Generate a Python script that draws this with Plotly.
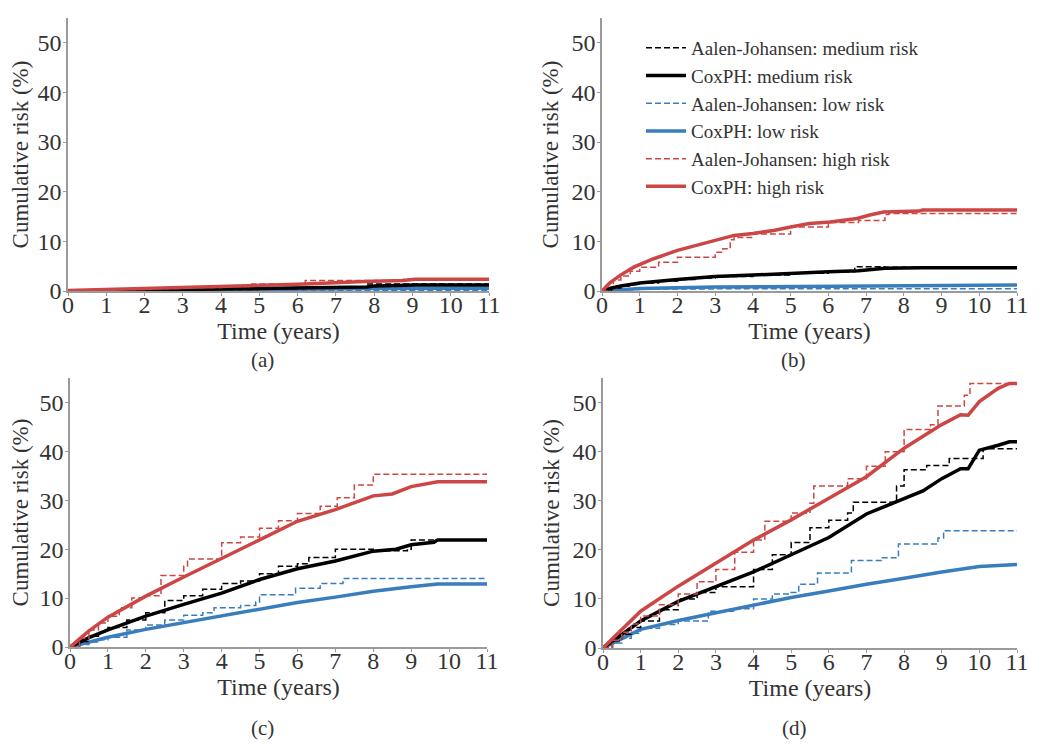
import plotly.graph_objects as go

# ---------------- data (time in years, cumulative risk in %) ----------------
# Panel (a)
a_aj_med_t = [0, 3, 5, 6.2, 7.8, 9.1, 11]
a_aj_med = [0.0, 0.3, 0.5, 0.8, 1.4, 1.4, 1.4]
a_cox_med_t = [0, 3, 6, 7.8, 8.0, 9.1, 11]
a_cox_med = [0.0, 0.3, 0.6, 0.8, 1.0, 1.2, 1.2]
a_aj_low_t = [0, 3, 8, 11]
a_aj_low = [0.0, 0.1, 0.15, 0.15]
a_cox_low_t = [0, 2, 4, 6, 8, 11]
a_cox_low = [0.0, 0.15, 0.3, 0.4, 0.5, 0.55]
a_aj_high_t = [0, 1, 2, 3, 4, 4.8, 6.2, 7.8, 8.75, 11]
a_aj_high = [0.1, 0.3, 0.5, 0.7, 0.9, 1.4, 2.1, 2.1, 2.3, 2.3]
a_cox_high_t = [0, 1, 2, 3, 4, 5, 6.2, 7.75, 8.75, 9.06, 11]
a_cox_high = [0.1, 0.3, 0.5, 0.7, 0.9, 1.1, 1.4, 1.9, 2.1, 2.35, 2.35]

# Panel (b)
b_aj_med_t = [0, 0.25, 0.5, 0.75, 1, 1.5, 2, 2.5, 3, 4, 5, 6, 6.7, 7.5, 8.5, 11]
b_aj_med = [0.0, 0.6, 1.0, 1.3, 1.6, 2.0, 2.3, 2.6, 2.9, 3.2, 3.6, 3.9, 4.9, 4.8, 4.7, 4.7]
b_cox_med_t = [0, 0.25, 0.5, 1, 2, 3, 4, 5, 6, 6.8, 7.5, 8.5, 11]
b_cox_med = [0.0, 0.6, 1.0, 1.6, 2.3, 2.9, 3.2, 3.6, 3.9, 4.1, 4.6, 4.7, 4.7]
b_aj_low_t = [0, 0.2, 0.5, 1, 3, 11]
b_aj_low = [0.0, 0.15, 0.3, 0.4, 0.45, 0.45]
b_cox_low_t = [0, 0.5, 1, 3, 6, 8, 11]
b_cox_low = [0.0, 0.3, 0.5, 0.8, 1.0, 1.15, 1.2]
b_aj_high_t = [0, 0.15, 0.3, 0.5, 0.75, 1, 1.5, 2, 2.5, 3, 3.2, 3.4, 3.5, 4, 5, 6, 6.8, 7.5, 7.6, 11]
b_aj_high = [0.0, 1.3, 2.2, 3.0, 4.0, 4.8, 5.8, 6.8, 6.8, 7.8, 8.5, 10.3, 10.8, 11.5, 12.9, 13.8, 14.2, 15.4, 15.6, 15.6]
b_cox_high_t = [0, 0.2, 0.49, 0.84, 1.37, 2.0, 2.5, 2.96, 3.5, 4.0, 4.55, 5.0, 5.5, 6.05, 6.76, 7.1, 7.46, 8.4, 8.5, 11]
b_cox_high = [0.0, 1.6, 3.2, 4.8, 6.5, 8.2, 9.2, 10.2, 11.2, 11.6, 12.2, 12.9, 13.6, 13.9, 14.6, 15.3, 15.9, 16.1, 16.3, 16.3]

# Panel (c)
c_aj_med_t = [0, 0.25, 0.5, 0.75, 1, 1.5, 2, 2.5, 3, 3.5, 4, 4.5, 5, 5.5, 6, 6.3, 7, 8, 8.9, 9.0, 11]
c_aj_med = [0.0, 1.1, 2.2, 3.1, 4.0, 5.5, 7.0, 9.5, 10.5, 11.8, 13.0, 13.5, 15.0, 16.5, 17.0, 18.3, 20.0, 19.7, 20.0, 21.9, 21.9]
c_cox_med_t = [0, 0.5, 1, 2, 3, 4, 5, 6, 7, 8, 8.6, 9, 9.6, 9.7, 11]
c_cox_med = [0.0, 1.9, 3.5, 6.3, 8.7, 11.0, 13.8, 16.0, 17.6, 19.6, 20.0, 20.9, 21.4, 21.9, 21.9]
c_aj_low_t = [0, 0.25, 0.5, 0.75, 1, 1.5, 2, 2.5, 3, 3.5, 3.8, 4.5, 4.9, 5.0, 5.95, 6.6, 7.2, 11]
c_aj_low = [0.0, 0.5, 1.0, 1.5, 2.0, 3.5, 4.5, 5.5, 6.5, 7.0, 8.0, 8.5, 9.2, 10.7, 12.0, 13.0, 14.0, 14.0]
c_cox_low_t = [0, 1, 2, 3, 4, 5, 6, 7, 8, 9, 9.7, 11]
c_cox_low = [0.0, 2.0, 3.6, 5.0, 6.4, 7.8, 9.1, 10.2, 11.4, 12.3, 12.9, 12.9]
c_aj_high_t = [0, 0.25, 0.5, 0.75, 1, 1.3, 1.63, 2, 2.4, 3, 3.1, 4, 4.5, 5, 5.5, 6.0, 6.6, 7.05, 7.5, 8.0, 11]
c_aj_high = [0.0, 1.8, 3.5, 4.9, 6.3, 8.0, 10.0, 10.5, 14.6, 16.5, 18.0, 21.3, 22.5, 24.3, 25.8, 27.3, 28.8, 30.5, 33.1, 35.3, 35.3]
c_cox_high_t = [0, 0.5, 1, 2, 3, 4, 5, 6, 7, 8, 8.5, 9, 9.7, 11]
c_cox_high = [0.0, 3.3, 6.1, 10.4, 14.3, 18.2, 21.9, 25.7, 28.1, 30.9, 31.3, 32.8, 33.8, 33.8]

# Panel (d)
d_aj_med_t = [0, 0.25, 0.5, 0.75, 1, 1.5, 2, 2.5, 3, 4, 4.5, 5, 5.5, 6, 6.5, 6.65, 7.5, 7.8, 8.0, 8.6, 9.2, 10.1, 11]
d_aj_med = [0.0, 1.5, 2.8, 4.2, 5.5, 7.8, 10.0, 11.3, 12.5, 16.0, 19.0, 21.5, 24.5, 26.0, 27.5, 29.7, 29.7, 33.0, 36.3, 37.2, 38.6, 40.6, 40.6]
d_cox_med_t = [0, 1, 2, 3, 4, 5, 6, 7, 8, 8.5, 9, 9.5, 9.7, 10, 10.5, 10.8, 11]
d_cox_med = [0.0, 5.5, 9.5, 12.5, 15.5, 19.0, 22.5, 27.3, 30.5, 32.0, 34.5, 36.5, 36.5, 40.3, 41.3, 42.0, 42.0]
d_aj_low_t = [0, 0.25, 0.5, 0.75, 1, 1.5, 2, 2.8, 3.5, 4, 4.5, 5, 5.2, 5.7, 6.6, 7.4, 7.85, 8.9, 9.05, 11]
d_aj_low = [0.0, 1.0, 2.0, 3.0, 4.0, 4.8, 5.5, 7.5, 8.0, 10.0, 11.0, 11.3, 13.0, 15.3, 17.8, 18.4, 21.2, 22.4, 23.9, 23.9]
d_cox_low_t = [0, 1, 2, 3, 4, 5, 6, 7, 8, 9, 10, 11]
d_cox_low = [0.0, 3.8, 5.6, 7.2, 8.8, 10.3, 11.6, 13.0, 14.2, 15.5, 16.6, 17.0]
d_aj_high_t = [0, 0.25, 0.5, 0.75, 1, 1.5, 2, 2.5, 3, 3.5, 4, 4.3, 5, 5.5, 5.6, 6.5, 7, 7.5, 8, 8.7, 8.9, 9.6, 9.75, 11]
d_aj_high = [0.0, 1.6, 3.2, 4.9, 6.5, 8.8, 11.0, 13.5, 16.0, 19.5, 22.0, 25.8, 27.5, 29.5, 33.0, 34.5, 37.0, 40.0, 44.5, 45.5, 49.3, 51.5, 53.9, 53.9]
d_cox_high_t = [0, 1, 2, 3, 4, 5, 6, 7, 8, 9, 9.5, 9.7, 10, 10.5, 10.8, 11]
d_cox_high = [0.0, 7.5, 12.6, 17.4, 22.0, 26.1, 30.5, 34.9, 40.7, 45.5, 47.5, 47.4, 50.2, 52.9, 53.9, 53.9]

panel_labels = ["(a)", "(b)", "(c)", "(d)"]
series_names = ["Aalen-Johansen: medium risk", "CoxPH: medium risk",
                "Aalen-Johansen: low risk", "CoxPH: low risk",
                "Aalen-Johansen: high risk", "CoxPH: high risk"]
x_ticks = list(range(0, 12))
y_ticks = [0, 10, 20, 30, 40, 50]

# ---------------- figure ----------------
BLACK = "#000000"
BLUE = "#3a7dbd"
RED = "#cc4646"
FONT = "Liberation Serif"
TXT = "#333333"

panels = [
    [(a_aj_med_t, a_aj_med), (a_cox_med_t, a_cox_med), (a_aj_low_t, a_aj_low),
     (a_cox_low_t, a_cox_low), (a_aj_high_t, a_aj_high), (a_cox_high_t, a_cox_high)],
    [(b_aj_med_t, b_aj_med), (b_cox_med_t, b_cox_med), (b_aj_low_t, b_aj_low),
     (b_cox_low_t, b_cox_low), (b_aj_high_t, b_aj_high), (b_cox_high_t, b_cox_high)],
    [(c_aj_med_t, c_aj_med), (c_cox_med_t, c_cox_med), (c_aj_low_t, c_aj_low),
     (c_cox_low_t, c_cox_low), (c_aj_high_t, c_aj_high), (c_cox_high_t, c_cox_high)],
    [(d_aj_med_t, d_aj_med), (d_cox_med_t, d_cox_med), (d_aj_low_t, d_aj_low),
     (d_cox_low_t, d_cox_low), (d_aj_high_t, d_aj_high), (d_cox_high_t, d_cox_high)],
]
colors = [BLACK, BLACK, BLUE, BLUE, RED, RED]
is_aj = [True, False, True, False, True, False]

# the page body adds an 8px margin, so the figure is 16px smaller than the window
OFF = 8
W, H = 1050 - 2 * OFF, 750 - 2 * OFF
# pixel boxes (window coords) of each plot area: (left, right, y of 0, y of 55)
boxes = [(68, 489, 291, 18), (602, 1017, 291, 18),
         (70, 487, 647, 378), (603, 1017, 648, 378)]

fig = go.Figure()
draw_order = [2, 3, 0, 1, 4, 5]
for p, series in enumerate(panels):
    ax = "" if p == 0 else str(p + 1)
    for k in draw_order:
        t, v = series[k]
        if is_aj[k]:
            line = dict(color=colors[k], width=1.5, dash="6px,3px", shape="hv")
        else:
            line = dict(color=colors[k], width=3.5, shape="linear")
        fig.add_trace(go.Scatter(
            x=t, y=v, mode="lines", line=line, name=series_names[k],
            showlegend=(p == 1), legendrank=k + 1,
            xaxis="x" + ax, yaxis="y" + ax, hoverinfo="skip"))


def px_x(x):
    return (x - OFF) / W


def px_y(y):
    return 1 - (y - OFF) / H


axis_common = dict(showgrid=False, zeroline=False, showline=True, automargin=False,
                   linecolor="#9a9a9a", linewidth=1.5, ticks="outside",
                   ticklen=3, tickcolor="#9a9a9a",
                   tickfont=dict(family=FONT, size=24, color=TXT))
layout = dict(width=W, height=H, margin=dict(l=0, r=0, t=0, b=0),
              paper_bgcolor="white", plot_bgcolor="white",
              font=dict(family=FONT, color=TXT),
              legend=dict(x=px_x(641), y=px_y(29), xanchor="left", yanchor="top",
                          bgcolor="rgba(0,0,0,0)",
                          font=dict(family=FONT, size=19, color=TXT),
                          itemwidth=40, tracegroupgap=0))
annotations = []
for p, (l, r, b, t) in enumerate(boxes):
    ax = "" if p == 0 else str(p + 1)
    layout["xaxis" + ax] = dict(axis_common, domain=[px_x(l), px_x(r)], range=[0, 11],
                                tickvals=x_ticks, anchor="y" + ax,
                                ticklabelstandoff=-12,
                                title=dict(text="Time (years)", standoff=0,
                                           font=dict(family=FONT, size=24, color=TXT)))
    layout["yaxis" + ax] = dict(axis_common, domain=[px_y(b), px_y(t)], range=[0, 55],
                                tickvals=y_ticks, anchor="x" + ax,
                                ticklabelstandoff=-3,
                                title=dict(text="Cumulative risk (%)", standoff=6,
                                           font=dict(family=FONT, size=23, color=TXT)))
    cap_y = 360 if p < 2 else 728
    annotations.append(dict(text=panel_labels[p], x=px_x((l + r) / 2 - 16), y=px_y(cap_y),
                            xref="paper", yref="paper", xanchor="center", yanchor="middle",
                            showarrow=False,
                            font=dict(family=FONT, size=21, color=TXT)))
layout["annotations"] = annotations
fig.update_layout(**layout)
fig.write_html("out.html")
